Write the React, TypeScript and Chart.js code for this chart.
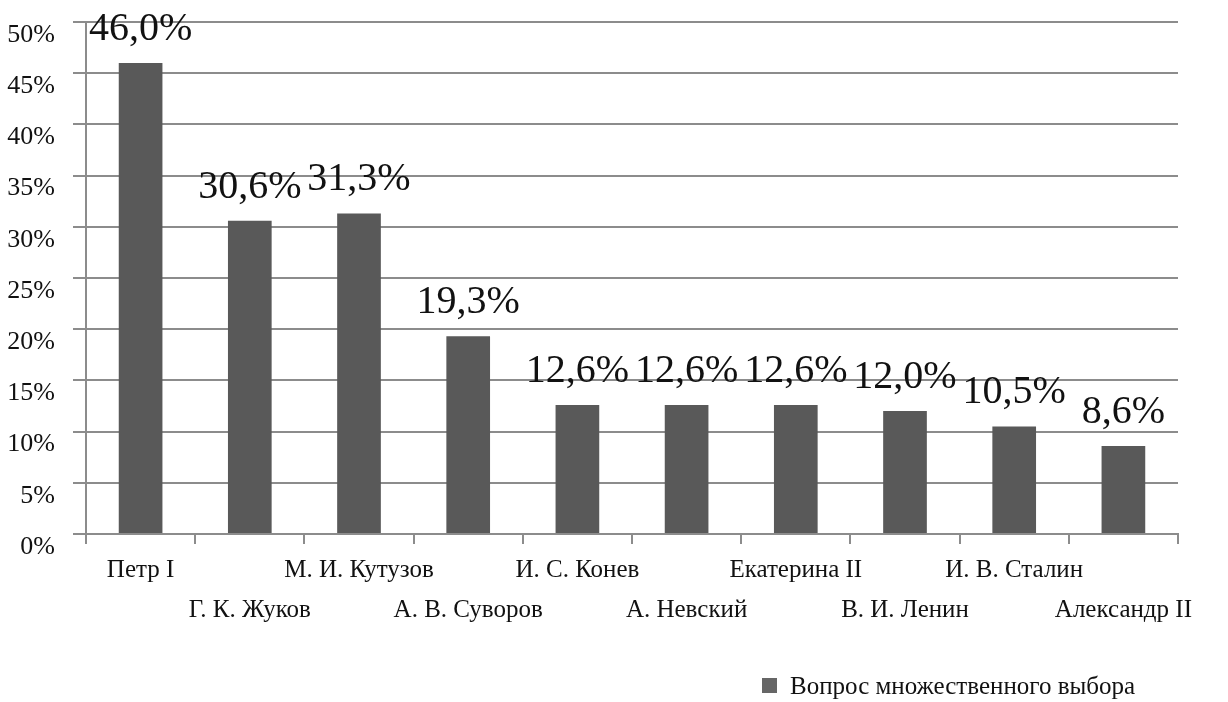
import React, { useEffect, useRef } from "react";
import { Chart, registerables } from "chart.js";

Chart.register(...registerables);

// Share of respondents naming each figure
const names: string[] = [
  "Петр I",
  "Г. К. Жуков",
  "М. И. Кутузов",
  "А. В. Суворов",
  "И. С. Конев",
  "А. Невский",
  "Екатерина II",
  "В. И. Ленин",
  "И. В. Сталин",
  "Александр II",
];
const shares: number[] = [46.0, 30.6, 31.3, 19.3, 12.6, 12.6, 12.6, 12.0, 10.5, 8.6];
const seriesName = "Вопрос множественного выбора";
const yMin = 0;
const yMax = 50;
const yStep = 5;

const SERIF = "'Liberation Serif', 'Times New Roman', serif";
const GRID = "#8c8c8c";
const BAR = "#595959";

const fmt = (v: number) => v.toFixed(1).replace(".", ",") + "%";

// Value captions above each bar
const valueLabels = {
  id: "valueLabels",
  afterDatasetsDraw(chart: any) {
    const { ctx } = chart;
    const meta = chart.getDatasetMeta(0);
    const data = chart.data.datasets[0].data as number[];
    ctx.save();
    ctx.font = `40px ${SERIF}`;
    ctx.fillStyle = "#111";
    ctx.textAlign = "center";
    ctx.textBaseline = "alphabetic";
    meta.data.forEach((bar: any, i: number) => {
      ctx.fillText(fmt(data[i]), bar.x, bar.y - 23);
    });
    ctx.restore();
  },
};

// Series key in the lower right corner
const seriesKey = {
  id: "seriesKey",
  afterDraw(chart: any) {
    const { ctx } = chart;
    ctx.save();
    ctx.fillStyle = "#666666";
    ctx.fillRect(762, 678, 15, 15);
    ctx.font = `25px ${SERIF}`;
    ctx.fillStyle = "#111";
    ctx.textAlign = "left";
    ctx.textBaseline = "alphabetic";
    ctx.fillText(chart.data.datasets[0].label, 790, 694);
    ctx.restore();
  },
};

export default function App() {
  const ref = useRef<HTMLCanvasElement | null>(null);

  useEffect(() => {
    if (!ref.current) return;
    const chart = new Chart(ref.current, {
      type: "bar",
      data: {
        labels: names,
        datasets: [
          {
            label: seriesName,
            data: shares,
            backgroundColor: BAR,
            borderWidth: 0,
            barPercentage: 0.4,
            categoryPercentage: 1,
          },
        ],
      },
      options: {
        responsive: false,
        animation: false,
        devicePixelRatio: 1,
        layout: { padding: { top: 22, right: 50, bottom: 0, left: 0 } },
        plugins: {
          legend: { display: false },
          tooltip: { enabled: false },
        },
        scales: {
          x: {
            offset: true,
            grid: {
              offset: true,
              drawOnChartArea: false,
              drawTicks: true,
              tickLength: 10,
              color: GRID,
              lineWidth: 2,
            },
            border: { display: true, color: GRID, width: 2 },
            ticks: {
              autoSkip: false,
              maxRotation: 0,
              minRotation: 0,
              padding: 6,
              color: "#111",
              font: { family: SERIF, size: 25, lineHeight: 1.6 },
              callback: (_v: any, i: number) => (i % 2 === 1 ? ["", names[i]] : names[i]),
            },
            afterFit: (scale: any) => {
              scale.height = 702 - 534;
            },
          },
          y: {
            min: yMin,
            max: yMax,
            grid: {
              color: GRID,
              lineWidth: 2,
              tickLength: 13,
              drawTicks: true,
            },
            border: { display: true, color: GRID, width: 2 },
            ticks: {
              stepSize: yStep,
              padding: 18,
              labelOffset: 13,
              color: "#111",
              font: { family: SERIF, size: 26 },
              callback: (v: any) => `${v}%`,
            },
            afterFit: (scale: any) => {
              scale.width = 86;
              scale.paddingTop = 0;
              scale.paddingBottom = 0;
            },
          },
        },
      },
      plugins: [valueLabels, seriesKey],
    });
    return () => chart.destroy();
  }, []);

  return (
    <div style={{ position: "fixed", left: 0, top: 0, width: 1228, height: 702, background: "#fff" }}>
      <canvas ref={ref} width={1228} height={702} style={{ display: "block" }} />
    </div>
  );
}
